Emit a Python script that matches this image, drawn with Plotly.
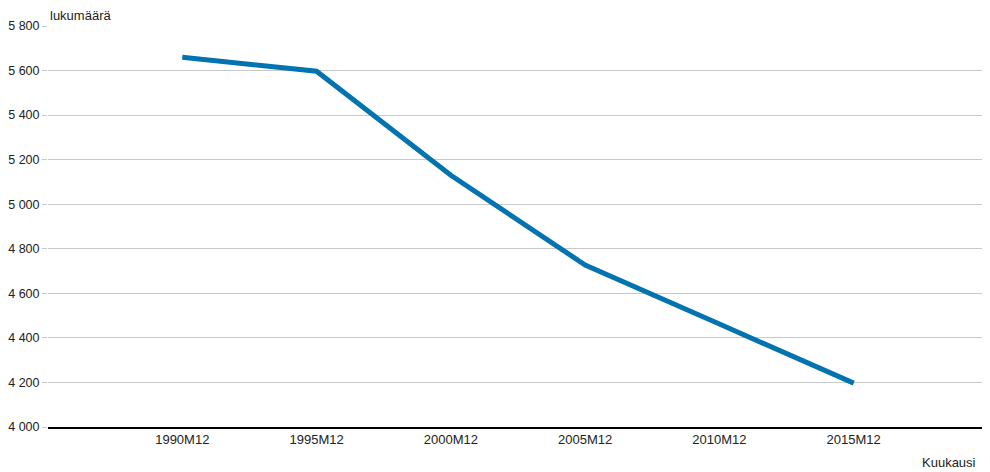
import plotly.graph_objects as go

categories = ["1990M12", "1995M12", "2000M12", "2005M12", "2010M12", "2015M12"]
values = [5660, 5597, 5130, 4727, 4462, 4197]
y_ticks = [4000, 4200, 4400, 4600, 4800, 5000, 5200, 5400, 5600, 5800]
y_tick_labels = [f"{v:,}".replace(",", " ") for v in y_ticks]

fig = go.Figure()
fig.add_trace(go.Scatter(
    x=list(range(len(categories))), y=values, mode="lines",
    line=dict(color="#0073b0", width=5),
    hoverinfo="skip"
))

# page body has an 8px default margin, so the figure is sized 8px smaller
fig.update_layout(
    width=982, height=464,
    margin=dict(l=40, r=2, t=18, b=45),
    plot_bgcolor="white", paper_bgcolor="white",
    font=dict(family="Liberation Sans, Arial, sans-serif", size=13, color="#222222"),
    showlegend=False,
    xaxis=dict(
        range=[-1, 6], tickmode="array",
        tickvals=list(range(len(categories))), ticktext=categories,
        showgrid=False, zeroline=False, automargin=False,
        showline=True, linecolor="#000000", linewidth=1.5,
        ticks="", ticklen=0,
    ),
    yaxis=dict(
        range=[4000, 5800], tickmode="array",
        tickvals=y_ticks, ticktext=y_tick_labels,
        tickfont=dict(size=12.5),
        showgrid=True, gridcolor="#c8c8c8", gridwidth=1,
        zeroline=False, showline=False, automargin=False,
        ticks="outside", ticklen=5, tickcolor="#c8c8c8",
    ),
    annotations=[
        dict(text="lukumäärä", xref="paper", yref="paper", x=0, y=1,
             xanchor="left", yanchor="bottom", showarrow=False, yshift=1,
             font=dict(size=13, color="#222222")),
        dict(text="Kuukausi", xref="paper", yref="paper", x=1, y=0,
             xanchor="right", yanchor="top", showarrow=False, xshift=-10, yshift=-26,
             font=dict(size=13, color="#222222")),
    ],
)

fig.write_html("out.html")
